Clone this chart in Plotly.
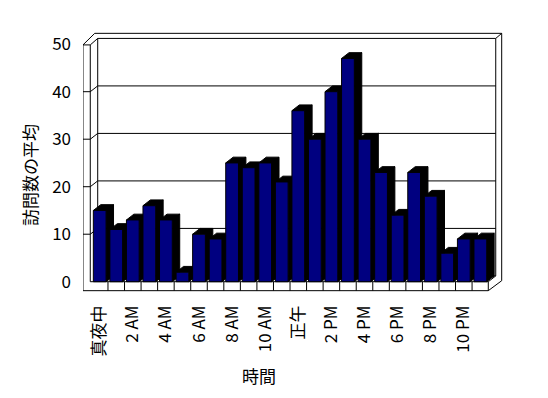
import plotly.graph_objects as go

# ---- data ----
hours = list(range(24))
visits = [15, 11, 13, 16, 13, 2, 10, 9, 25, 24, 25, 21,
          36, 30, 40, 47, 30, 23, 14, 23, 18, 6, 9, 9]
tick_pos = [0, 2, 4, 6, 8, 10, 12, 14, 16, 18, 20, 22]
tick_labels = ["真夜中", "2 AM", "4 AM", "6 AM", "8 AM", "10 AM",
               "正午", "2 PM", "4 PM", "6 PM", "8 PM", "10 PM"]
y_ticks = [0, 10, 20, 30, 40, 50]

# ---- 3D look parameters (data units) ----
BAR_W = 0.77
DX, DY = 0.45, 1.22          # depth offset
FL, FI = -1.01, -0.57        # left wall outer / inner front x
FR, OR = 23.48, 24.29        # floor front right / outer right
FB = -1.89                   # floor bottom
WALL_TOP = 49.85
OUT_TOP = 52.29
YMAX = y_ticks[-1]

FONT = "Noto Sans CJK JP"
NAVY = "#000080"

# dark faces (side + top) and front faces
dx_, dy_, fx_, fy_ = [], [], [], []
for x, v in zip(hours, visits):
    l, r = x - BAR_W / 2, x + BAR_W / 2
    dx_ += [r, r + DX, r + DX, r, r, None]
    dy_ += [0, DY, v + DY, v, 0, None]
    dx_ += [l, r, r + DX, l + DX, l, None]
    dy_ += [v, v, v + DY, v + DY, v, None]
    fx_ += [l, r, r, l, l, None]
    fy_ += [0, 0, v, v, 0, None]

fig = go.Figure()
fig.add_trace(go.Scatter(x=dx_, y=dy_, mode="lines", fill="toself",
                         fillcolor="black", line=dict(color="black", width=1),
                         hoverinfo="skip", showlegend=False))
fig.add_trace(go.Scatter(x=fx_, y=fy_, mode="lines", fill="toself",
                         fillcolor=NAVY, line=dict(color="black", width=1),
                         hoverinfo="skip", showlegend=False))


def P(pts, close=False):
    s = "M " + " L ".join(f"{a:.3f},{b:.3f}" for a, b in pts)
    return s + (" Z" if close else "")


shapes = []
line = dict(color="black", width=1)
# outer silhouette
shapes.append(dict(type="path", xref="x", yref="y", layer="below",
                   path=P([(FL, FB), (FL, WALL_TOP), (-0.30, OUT_TOP), (OR, OUT_TOP),
                           (OR, 0.21), (FR, FB)], close=True),
                   fillcolor="white", line=line))
segs = [
    [(FI, 0), (FI, WALL_TOP)],
    [(FL, WALL_TOP), (FI, WALL_TOP), (FI + DX, YMAX + DY)],
    [(FI + DX, DY), (FI + DX, YMAX + DY), (FR + DX, YMAX + DY), (FR + DX, DY)],
    [(FR + DX, YMAX + DY), (OR, OUT_TOP)],
    [(FI, 0), (FR, 0), (FR, FB)],
    [(FR, 0), (FR + DX, DY)],
    [(FI + DX, DY), (FR + DX, DY)],
]
for i in hours[:-1]:
    segs.append([(i + 0.5, FB), (i + 0.5, 0)])
for v in y_ticks[1:-1]:
    segs.append([(FL, v), (FI, v), (FI + DX, v + DY), (FR + DX, v + DY)])
for s in segs:
    shapes.append(dict(type="path", xref="x", yref="y", layer="below",
                       path=P(s), line=line))

fig.update_layout(
    width=548, height=398,
    margin=dict(l=75, r=48, t=22, b=108),
    paper_bgcolor="white", plot_bgcolor="white",
    showlegend=False,
    font=dict(family=FONT, size=17, color="black"),
    shapes=shapes,
    xaxis=dict(range=[-1.009, 24.671], tickvals=tick_pos, ticktext=tick_labels,
               tickangle=-90, showgrid=False, zeroline=False, showline=False,
               ticks="", ticklabelstandoff=3, fixedrange=True,
               tickfont=dict(family=FONT, size=17, color="black")),
    yaxis=dict(range=[-3.43, 52.99], tickvals=y_ticks, showgrid=False,
               zeroline=False, showline=False, ticks="", ticklabelstandoff=11,
               fixedrange=True,
               tickfont=dict(family=FONT, size=17, color="black")),
    annotations=[
        dict(text="訪問数の平均", xref="paper", yref="paper", x=0, y=0.459,
             xshift=-53, textangle=-90, showarrow=False,
             xanchor="center", yanchor="middle",
             font=dict(family=FONT, size=17, color="black")),
        dict(text="時間", xref="paper", yref="paper", x=0.414, y=0,
             yshift=-77, showarrow=False, xanchor="center", yanchor="middle",
             font=dict(family=FONT, size=17, color="black")),
    ],
)

fig.write_html("out.html")
